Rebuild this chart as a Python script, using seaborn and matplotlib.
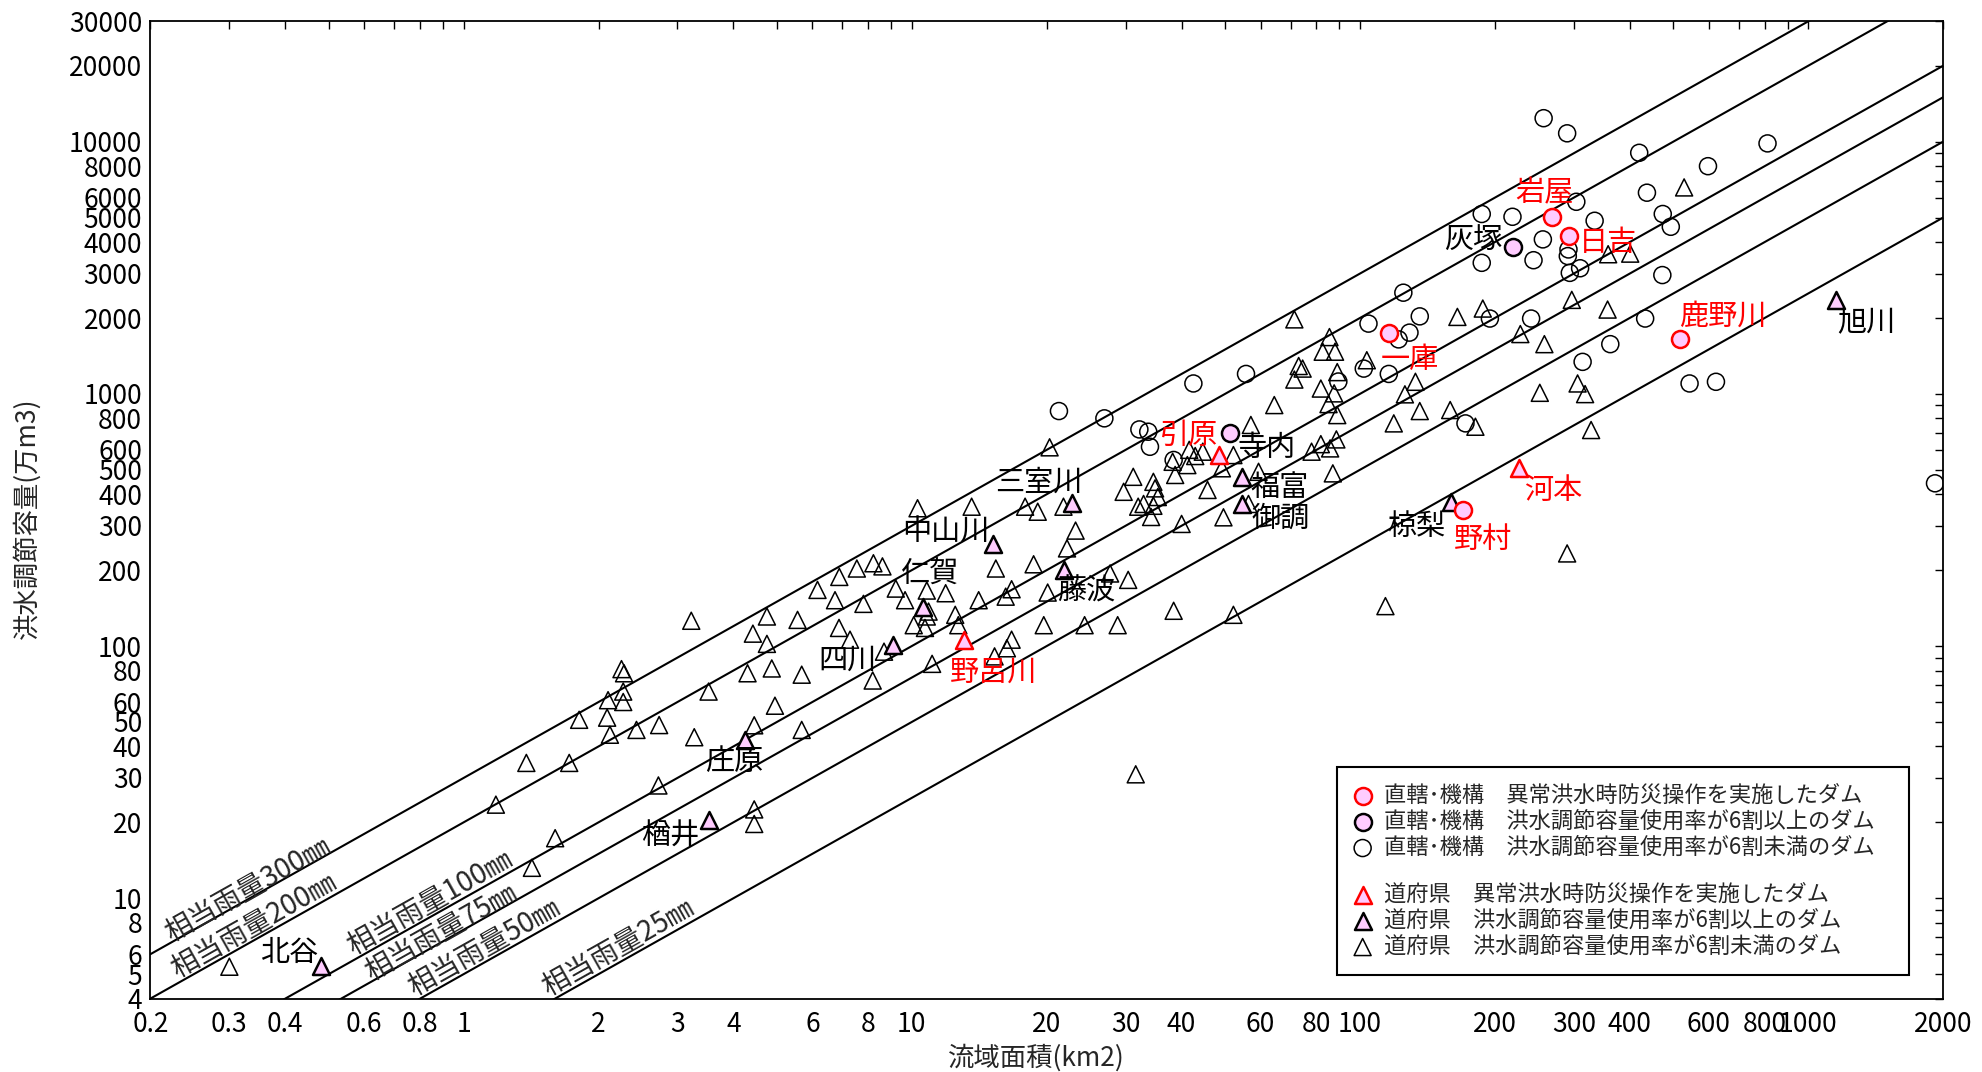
import math

import matplotlib
matplotlib.use("Agg")
import matplotlib.pyplot as plt
import numpy as np
import seaborn as sns
from matplotlib.lines import Line2D

sns.set_style("white")
plt.rcParams["font.family"] = ["Noto Sans CJK JP", "DejaVu Sans"]
plt.rcParams["axes.unicode_minus"] = False

# ---- data (流域面積 km2, 洪水調節容量 万m3) ----
# 直轄・機構 異常洪水時防災操作
kuni_ijo_names = ["岩屋", "日吉", "一庫", "鹿野川", "野村"]
kuni_ijo_area = [268, 293, 116, 518, 170]
kuni_ijo_cap = [5040, 4225, 1750, 1650, 348]

# 直轄・機構 6割以上
kuni_hi_names = ["灰塚", "寺内"]
kuni_hi_area = [220, 51.3]
kuni_hi_cap = [3830, 700]

# 直轄・機構 6割未満
kuni_lo_area = [21.3, 26.9, 32.2, 33.7, 34.0, 38.4, 42.5, 55.7, 89.5, 102,
                104.5, 116, 122, 125, 129, 136, 172, 187, 187, 195,
                219, 241, 244, 256, 257, 290, 292, 291, 294, 304,
                310, 314, 334, 362, 420, 433, 437, 473, 474, 494,
                544, 598, 623, 812, 1920]
kuni_lo_cap = [855, 800, 723, 708, 617, 547, 1100, 1200, 1120, 1260,
               1900, 1200, 1645, 2520, 1750, 2030, 764, 5170, 3310, 1990,
               5040, 1990, 3390, 4100, 12400, 10800, 3740, 3520, 3020, 5780,
               3150, 1340, 4860, 1575, 9040, 1990, 6280, 2960, 5170, 4600,
               1100, 8000, 1117, 9850, 442]

# 道府県 異常洪水時防災操作
pref_ijo_names = ["引原", "野呂川", "河本"]
pref_ijo_area = [48.6, 13.1, 227]
pref_ijo_cap = [572, 106, 507]

# 道府県 6割以上
pref_hi_names = ["北谷", "楢井", "庄原", "四川", "仁賀", "中山川", "三室川",
                 "藤波", "福富", "御調", "椋梨", "旭川"]
pref_hi_area = [0.48, 3.53, 4.25, 9.1, 10.6, 15.2, 22.8, 21.9, 54.5, 54.5, 160, 1154]
pref_hi_cap = [5.4, 20.5, 42.5, 101, 143, 254, 368, 201, 469, 366, 372, 2360]

# 道府県 6割未満
pref_lo_area = [0.30, 1.18, 1.38, 1.42, 1.60, 1.72, 1.81, 2.09, 2.10, 2.12,
                2.25, 2.28, 2.27, 2.27, 2.43, 2.73, 2.72, 3.22, 3.27, 3.52,
                4.45, 4.45, 4.45, 4.95, 5.68, 4.30, 4.87, 5.68, 4.42, 4.75,
                4.75, 5.56, 6.16, 6.74, 6.89, 7.54, 8.21, 8.60, 7.80, 6.88,
                7.28, 8.18, 8.67, 9.21, 9.66, 10.3, 10.8, 10.8, 10.7, 10.9,
                10.1, 11.9, 12.5, 12.7, 11.1, 13.6, 14.1, 15.4, 15.3, 16.2,
                16.7, 16.7, 16.3, 17.9, 18.7, 19.1, 19.7, 20.1, 20.3, 21.8,
                22.2, 23.2, 24.3, 27.7, 28.8, 29.7, 30.4, 31.2, 32.0, 31.6,
                32.9, 34.6, 34.9, 35.4, 34.6, 34.2, 38.2, 38.7, 40.0, 41.2,
                41.6, 42.9, 44.6, 45.7, 49.2, 49.6, 52.2, 56.4, 57.1, 59.4,
                38.4, 52.2, 64.4, 71.4, 71.4, 73.0, 74.5, 78.0, 81.8, 85.8,
                88.6, 87.0, 81.8, 87.6, 85.1, 89.0, 82.6, 85.5, 88.0, 89.0,
                103.6, 114, 119, 126, 133, 136, 159, 165, 181,
                188, 228, 258, 252, 297, 306, 318, 328, 357, 358, 401, 529, 290]
pref_lo_cap = [5.35, 23.5, 34.4, 13.2, 17.3, 34.4, 51, 52, 61, 44.5,
               81, 78, 66, 60, 46.5, 48.6, 28, 126, 43.5, 66,
               22.5, 19.7, 48.5, 58, 46.5, 78, 81.5, 77, 112, 102,
               131, 127, 167, 152, 188, 203, 213, 207, 147, 118,
               106, 73, 95, 169, 152, 352, 166, 131, 118, 137,
               121, 162, 133, 121, 85, 357, 152, 203, 91, 157,
               168, 106, 98, 357, 211, 341, 121, 163, 614, 357,
               244, 287, 121, 194, 121, 409, 183, 469, 357, 31,
               366, 448, 422, 390, 360, 325, 538, 477, 305, 522,
               600, 567, 590, 416, 507, 324, 572, 366, 753, 491,
               138, 133, 903, 1975, 1140, 1290, 1260, 590, 632, 608,
               660, 484, 1050, 1005, 911, 824, 1470, 1680, 1470, 1220,
               1360, 144, 764, 996, 1117, 855, 863, 2020, 741,
               2180, 1727, 1575, 1010, 2360, 1100, 998, 719, 2160, 3580, 3600, 6590, 233]

rain_mm = [300, 200, 100, 75, 50, 25]

legend_labels = [
    "直轄･機構\u3000異常洪水時防災操作を実施したダム",
    "直轄･機構\u3000洪水調節容量使用率が6割以上のダム",
    "直轄･機構\u3000洪水調節容量使用率が6割未満のダム",
    "道府県\u3000異常洪水時防災操作を実施したダム",
    "道府県\u3000洪水調節容量使用率が6割以上のダム",
    "道府県\u3000洪水調節容量使用率が6割未満のダム",
]

x_major = [0.2, 0.3, 0.4, 0.6, 0.8, 1, 2, 3, 4, 6, 8, 10, 20, 30, 40, 60, 80,
           100, 200, 300, 400, 600, 800, 1000, 2000]
x_minor = [0.5, 0.7, 0.9, 5, 7, 9, 50, 70, 90, 500, 700, 900]
y_major = [4, 5, 6, 8, 10, 20, 30, 40, 50, 60, 80, 100, 200, 300, 400, 500, 600,
           800, 1000, 2000, 3000, 4000, 5000, 6000, 8000, 10000, 20000, 30000]
y_minor = [7, 9, 70, 90, 700, 900, 7000, 9000]

# ---- figure ----
fig = plt.figure(figsize=(19.82, 10.72), dpi=100)
ax = fig.add_axes([0.0759, 0.0685, 0.9044, 0.9115])
ax.set_xscale("log")
ax.set_yscale("log")
ax.set_xlim(0.2, 2000)
ax.set_ylim(4, 30000)

# equivalent rainfall lines: capacity(万m3) = rain(mm) * area(km2) / 10
span = np.array([0.2, 2000.0])
for r in rain_mm:
    sns.lineplot(x=span, y=span * r / 10, color="black", linewidth=1.5, ax=ax, zorder=2)

pink = "#ffccff"
mk = 150


def dots(area, cap, marker, face, edge, lw):
    sns.scatterplot(x=area, y=cap, marker=marker, s=mk, facecolor=face,
                    edgecolor=edge, linewidth=lw, ax=ax, zorder=3, legend=False)
    return ax.collections[-1]


h_kuni_lo = dots(kuni_lo_area, kuni_lo_cap, "o", "none", "black", 1.1)
h_pref_lo = dots(pref_lo_area, pref_lo_cap, "^", "none", "black", 1.1)
h_kuni_hi = dots(kuni_hi_area, kuni_hi_cap, "o", pink, "black", 1.8)
h_pref_hi = dots(pref_hi_area, pref_hi_cap, "^", pink, "black", 1.8)
h_kuni_ijo = dots(kuni_ijo_area, kuni_ijo_cap, "o", pink, "red", 1.8)
h_pref_ijo = dots(pref_ijo_area, pref_ijo_cap, "^", pink, "red", 1.8)

# name labels (offsets in points from the marker)
name_offsets = {
    "岩屋": (-5, 17), "日吉": (28, -5), "一庫": (15, -20), "鹿野川": (31, 16),
    "野村": (14, -22), "灰塚": (-29, 4), "寺内": (26, -11), "引原": (-22, 14),
    "野呂川": (21, -24), "河本": (24, -16), "北谷": (-23, 9), "楢井": (-28, -12),
    "庄原": (-8, -16), "四川": (-33, -11), "仁賀": (5, 23), "中山川": (-34, 8),
    "三室川": (-24, 15), "藤波": (16, -16), "福富": (27, -8), "御調": (28, -11),
    "椋梨": (-25, -18), "旭川": (22, -17),
}
groups = [
    (kuni_ijo_names, kuni_ijo_area, kuni_ijo_cap, "red"),
    (kuni_hi_names, kuni_hi_area, kuni_hi_cap, "black"),
    (pref_ijo_names, pref_ijo_area, pref_ijo_cap, "red"),
    (pref_hi_names, pref_hi_area, pref_hi_cap, "black"),
]
for names, areas, caps, col in groups:
    for n, a, c in zip(names, areas, caps):
        ax.annotate(n, xy=(a, c), xytext=name_offsets[n], textcoords="offset points",
                    ha="center", va="center", fontsize=21, color=col, zorder=4)

# rainfall line labels
p0 = ax.transData.transform((1, 1))
p1 = ax.transData.transform((10, 10))
angle = math.degrees(math.atan2(p1[1] - p0[1], p1[0] - p0[0]))
rain_label_pos = [(0.330, 10.8), (0.341, 7.76), (0.841, 9.57), (0.89, 7.28), (1.11, 6.35), (2.21, 6.35)]
for r, (lx, ly) in zip(rain_mm, rain_label_pos):
    ax.text(lx, ly, f"相当雨量{r}㎜", rotation=angle, rotation_mode="anchor",
            ha="center", va="center", fontsize=20, zorder=4)

# axes, ticks
narrow = ["Liberation Sans Narrow", "Noto Sans CJK JP", "DejaVu Sans"]
ax.set_xticks(x_major, [f"{v:g}" for v in x_major])
ax.set_xticks(x_minor, minor=True)
ax.set_yticks(y_major, [f"{v:g}" for v in y_major])
ax.set_yticks(y_minor, minor=True)
ax.xaxis.set_minor_formatter(matplotlib.ticker.NullFormatter())
ax.yaxis.set_minor_formatter(matplotlib.ticker.NullFormatter())
ax.tick_params(which="both", direction="in", top=True, right=True, length=6,
               width=1, colors="black")
ax.tick_params(axis="x", pad=9)
ax.tick_params(axis="y", pad=6)
for t in ax.get_xticklabels() + ax.get_yticklabels():
    t.set_fontfamily(narrow)
    t.set_fontsize(19)
for sp in ax.spines.values():
    sp.set_linewidth(1.3)
    sp.set_color("black")

ax.set_xlabel("流域面積(km2)", fontsize=19)
ax.set_ylabel("洪水調節容量(万m3)", fontsize=19)
ax.xaxis.set_label_coords(0.494, -0.047)
ax.yaxis.set_label_coords(-0.061, 0.492)

blank = Line2D([], [], linestyle="none")
handles = [h_kuni_ijo, h_kuni_hi, h_kuni_lo, blank, h_pref_ijo, h_pref_hi, h_pref_lo]
labels = legend_labels[:3] + [""] + legend_labels[3:]
leg = ax.legend(handles, labels, loc="upper left",
                bbox_to_anchor=(0.662, 0.0323, 0.319, 0.2047), mode="expand",
                borderaxespad=0, fontsize=16, frameon=True, fancybox=False,
                framealpha=1, edgecolor="black", borderpad=0.75, labelspacing=0.14,
                handlelength=0.8, handletextpad=0.55, scatterpoints=1)
leg.get_frame().set_linewidth(1.5)
leg.get_texts()[3].set_fontsize(6)

fig.savefig("out.png", dpi=100)
